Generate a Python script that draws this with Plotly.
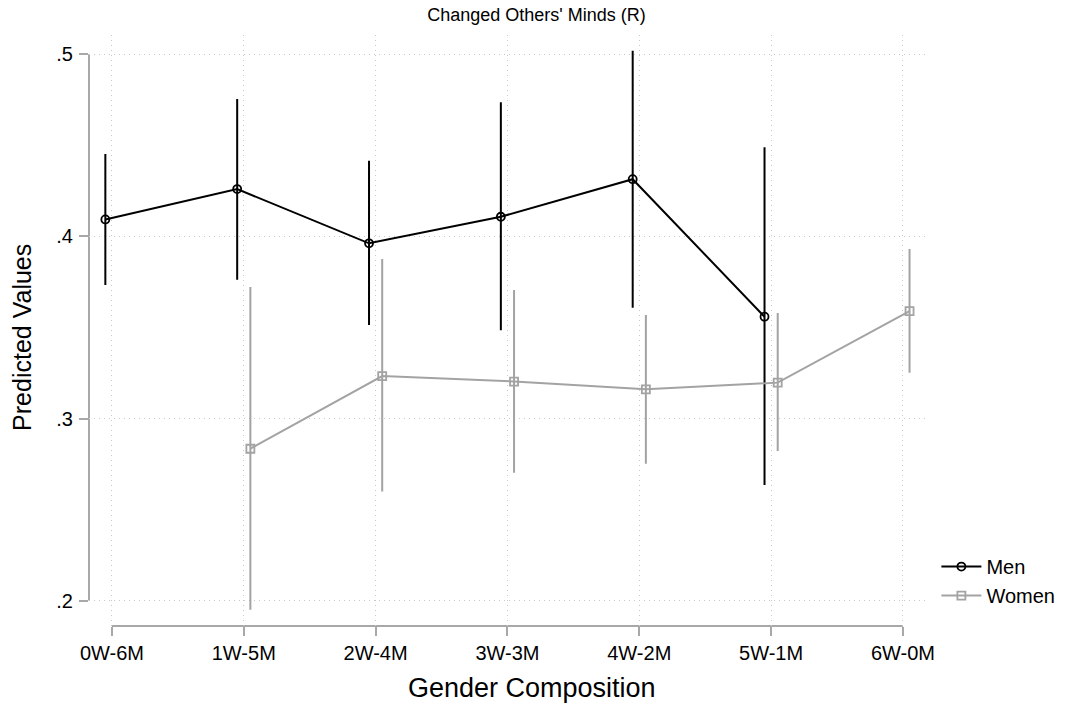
import plotly.graph_objects as go

# Gender composition categories (x axis)
categories = ["0W-6M", "1W-5M", "2W-4M", "3W-3M", "4W-2M", "5W-1M", "6W-0M"]

# Men: predicted values with confidence bounds (groups with at least one man)
men_idx = [0, 1, 2, 3, 4, 5]
men_pred = [0.4093, 0.4260, 0.3962, 0.4108, 0.4314, 0.3559]
men_low = [0.3739, 0.3768, 0.3519, 0.3490, 0.3614, 0.2640]
men_high = [0.4447, 0.4749, 0.4410, 0.4731, 0.5014, 0.4484]

# Women: predicted values with confidence bounds (groups with at least one woman)
women_idx = [1, 2, 3, 4, 5, 6]
women_pred = [0.2834, 0.3233, 0.3203, 0.3160, 0.3197, 0.3590]
women_low = [0.1955, 0.2604, 0.2708, 0.2757, 0.2827, 0.3257]
women_high = [0.3716, 0.3870, 0.3700, 0.3563, 0.3574, 0.3925]

y_ticks = [0.2, 0.3, 0.4, 0.5]
y_tick_text = [".2", ".3", ".4", ".5"]

FONT = "Liberation Sans, Arial, Helvetica, sans-serif"
MEN_COLOR = "#000000"
WOMEN_COLOR = "#a3a3a3"
AXIS_COLOR = "#a8a8a8"
GRID_COLOR = "#c8c8c8"
GRID_DASH = "1px,4px"
DODGE = 0.05


def series(idx, pred, low, high, name, color, symbol, shift):
    return go.Scatter(
        x=[i + shift for i in idx],
        y=pred,
        name=name,
        mode="lines+markers",
        line=dict(color=color, width=2),
        marker=dict(symbol=symbol, size=8, color="rgba(255,255,255,0)",
                    line=dict(color=color, width=1.8)),
        error_y=dict(
            type="data",
            symmetric=False,
            array=[h - p for h, p in zip(high, pred)],
            arrayminus=[p - l for p, l in zip(pred, low)],
            color=color,
            thickness=2,
            width=1,
        ),
    )


fig = go.Figure()
fig.add_trace(series(men_idx, men_pred, men_low, men_high, "Men",
                     MEN_COLOR, "circle", -DODGE))
fig.add_trace(series(women_idx, women_pred, women_low, women_high, "Women",
                     WOMEN_COLOR, "square", DODGE))

fig.update_layout(
    width=1073,
    height=704,
    margin=dict(l=89, r=145, t=35, b=78),
    paper_bgcolor="white",
    plot_bgcolor="white",
    font=dict(family=FONT, color="#000000", size=20),
    title=dict(text="Changed Others' Minds (R)", x=0.5, xanchor="center",
               y=0.979, yanchor="middle", font=dict(size=18)),
    showlegend=True,
    legend=dict(x=1.01, xanchor="left", y=0.076, yanchor="middle",
                font=dict(size=20), bgcolor="rgba(0,0,0,0)",
                itemwidth=40, tracegroupgap=0),
    xaxis=dict(
        range=[-0.174, 6.19],
        tickmode="array",
        tickvals=list(range(len(categories))),
        ticktext=categories,
        ticks="outside",
        ticklen=9,
        tickwidth=2,
        tickcolor=AXIS_COLOR,
        tickfont=dict(size=20),
        showline=False,
        zeroline=False,
        showgrid=True,
        gridcolor=GRID_COLOR,
        griddash=GRID_DASH,
        gridwidth=1,
    ),
    yaxis=dict(
        range=[0.18605, 0.5106],
        tickmode="array",
        tickvals=y_ticks,
        ticktext=y_tick_text,
        ticks="outside",
        ticklen=9,
        tickwidth=2,
        tickcolor=AXIS_COLOR,
        tickfont=dict(size=20),
        ticklabelstandoff=2,
        showline=False,
        zeroline=False,
        showgrid=True,
        gridcolor=GRID_COLOR,
        griddash=GRID_DASH,
        gridwidth=1,
    ),
    annotations=[
        dict(text="Gender Composition", xref="paper", yref="paper",
             x=0.528, y=-0.105, xanchor="center", yanchor="middle",
             showarrow=False, font=dict(size=27)),
        dict(text="Predicted Values", xref="paper", yref="paper",
             x=-0.08, y=0.489, xanchor="center", yanchor="middle",
             textangle=-90, showarrow=False, font=dict(size=25)),
    ],
    shapes=[
        # y axis line spanning the labelled range
        dict(type="line", xref="paper", yref="y", x0=0, x1=0,
             y0=y_ticks[0], y1=y_ticks[-1],
             line=dict(color=AXIS_COLOR, width=2), layer="below"),
        # x axis line spanning the categories
        dict(type="line", xref="x", yref="paper", x0=0, x1=len(categories) - 1,
             y0=0, y1=0, line=dict(color=AXIS_COLOR, width=2), layer="below"),
    ],
)

fig.write_html("out.html")
